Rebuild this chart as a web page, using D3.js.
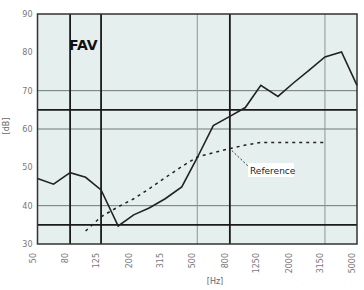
<!DOCTYPE html>
<html><head><meta charset="utf-8">
<script src="https://cdn.jsdelivr.net/npm/d3@7"></script>
<style>body{margin:0;background:#fff;} svg{display:block;}</style>
</head><body><svg id="c" width="364" height="290"></svg>
<script>
const freqs = [50,63,80,100,125,160,200,250,315,400,500,630,800,1000,1250,1600,2000,2500,3150,4000,5000];
const measured = [47.1,45.6,48.6,47.4,44.1,34.7,37.6,39.4,41.8,44.9,52.5,60.9,63.3,65.6,71.4,68.5,72.0,75.3,78.8,80.1,71.4];
const refFreqs = [100,125,160,200,250,315,400,500,630,800,1000,1250,1600,2000,2500,3150];
const reference = [33.4,37.1,39.7,41.8,44.4,47.3,50.2,52.7,53.8,54.9,55.8,56.5,56.5,56.5,56.5,56.5];
const xTicks = [50,80,125,200,315,500,800,1250,2000,3150,5000];
const yTicks = [30,40,50,60,70,80,90];
const thinH = [70,60,40], thickH = [65,35];
const thinV = [500,3150], thickV = [80,125,800];

const svg = d3.select("#c");
const L=37.5,R=357,T=14,B=244;
const x = d3.scaleLog().domain([50,5000]).range([L,R]);
const y = d3.scaleLinear().domain([30,90]).range([B,T]);

svg.append("rect").attr("x",L).attr("y",T).attr("width",R-L).attr("height",B-T).attr("fill","#e5efee");

const g = svg.append("g");
thinH.forEach(v=>g.append("line").attr("x1",L).attr("x2",R).attr("y1",y(v)).attr("y2",y(v)).attr("stroke","#6e7a78").attr("stroke-width",1));
thinV.forEach(v=>g.append("line").attr("x1",x(v)).attr("x2",x(v)).attr("y1",T).attr("y2",B).attr("stroke","#8a9694").attr("stroke-width",1));
thickH.forEach(v=>g.append("line").attr("x1",L).attr("x2",R).attr("y1",y(v)).attr("y2",y(v)).attr("stroke","#1a1a1a").attr("stroke-width",1.6));
thickV.forEach(v=>g.append("line").attr("x1",x(v)).attr("x2",x(v)).attr("y1",T).attr("y2",B).attr("stroke","#1a1a1a").attr("stroke-width",1.8));

svg.append("rect").attr("x",L).attr("y",T).attr("width",R-L).attr("height",B-T).attr("fill","none").attr("stroke","#333").attr("stroke-width",1.5);

// axes
const ya = d3.axisLeft(y).tickValues(yTicks).tickSize(0).tickPadding(5);
svg.append("g").attr("transform",`translate(${L},0)`).call(ya).call(s=>s.select(".domain").remove())
  .selectAll("text").attr("font-family","DejaVu Sans").attr("font-size",8).attr("fill","#777");
const xa = d3.axisBottom(x).tickValues(xTicks).tickFormat(d3.format("d")).tickSize(0);
svg.append("g").attr("transform",`translate(0,${B})`).call(xa).call(s=>s.select(".domain").remove())
  .selectAll("text").attr("font-family","DejaVu Sans").attr("font-size",8).attr("fill","#777")
  .attr("transform","rotate(-90)").attr("text-anchor","end").attr("dx","-5").attr("dy","-0.3em").attr("y",0).attr("x",-4);

svg.append("text").attr("transform","translate(9,126) rotate(-90)").attr("text-anchor","middle")
  .attr("font-family","DejaVu Sans").attr("font-size",8).attr("fill","#666").text("[dB]");
svg.append("text").attr("x",215).attr("y",284).attr("text-anchor","middle")
  .attr("font-family","DejaVu Sans").attr("font-size",8).attr("fill","#666").text("[Hz]");

// lines
const line = d3.line().x(d=>x(d[0])).y(d=>y(d[1]));
svg.append("path").datum(freqs.map((f,i)=>[f,measured[i]])).attr("d",line)
  .attr("fill","none").attr("stroke","#222").attr("stroke-width",1.6);
svg.append("path").datum(refFreqs.map((f,i)=>[f,reference[i]])).attr("d",line)
  .attr("fill","none").attr("stroke","#222").attr("stroke-width",1.5).attr("stroke-dasharray","3,4");

// FAV
svg.append("text").attr("x",69).attr("y",50).attr("font-family","DejaVu Sans").attr("font-weight","bold")
  .attr("font-size",14).attr("fill","#111").text("FAV");

// Reference label
const ax = x(800), ay = y(54.9);
svg.append("line").attr("x1",ax+2).attr("y1",ay+2).attr("x2",249).attr("y2",167)
  .attr("stroke","#333").attr("stroke-width",1).attr("stroke-dasharray","2,2");
svg.append("rect").attr("x",248).attr("y",163).attr("width",46).attr("height",14).attr("fill","#fff");
svg.append("text").attr("x",250).attr("y",174).attr("font-family","DejaVu Sans").attr("font-size",9)
  .attr("fill","#222").text("Reference");
</script></body></html>
